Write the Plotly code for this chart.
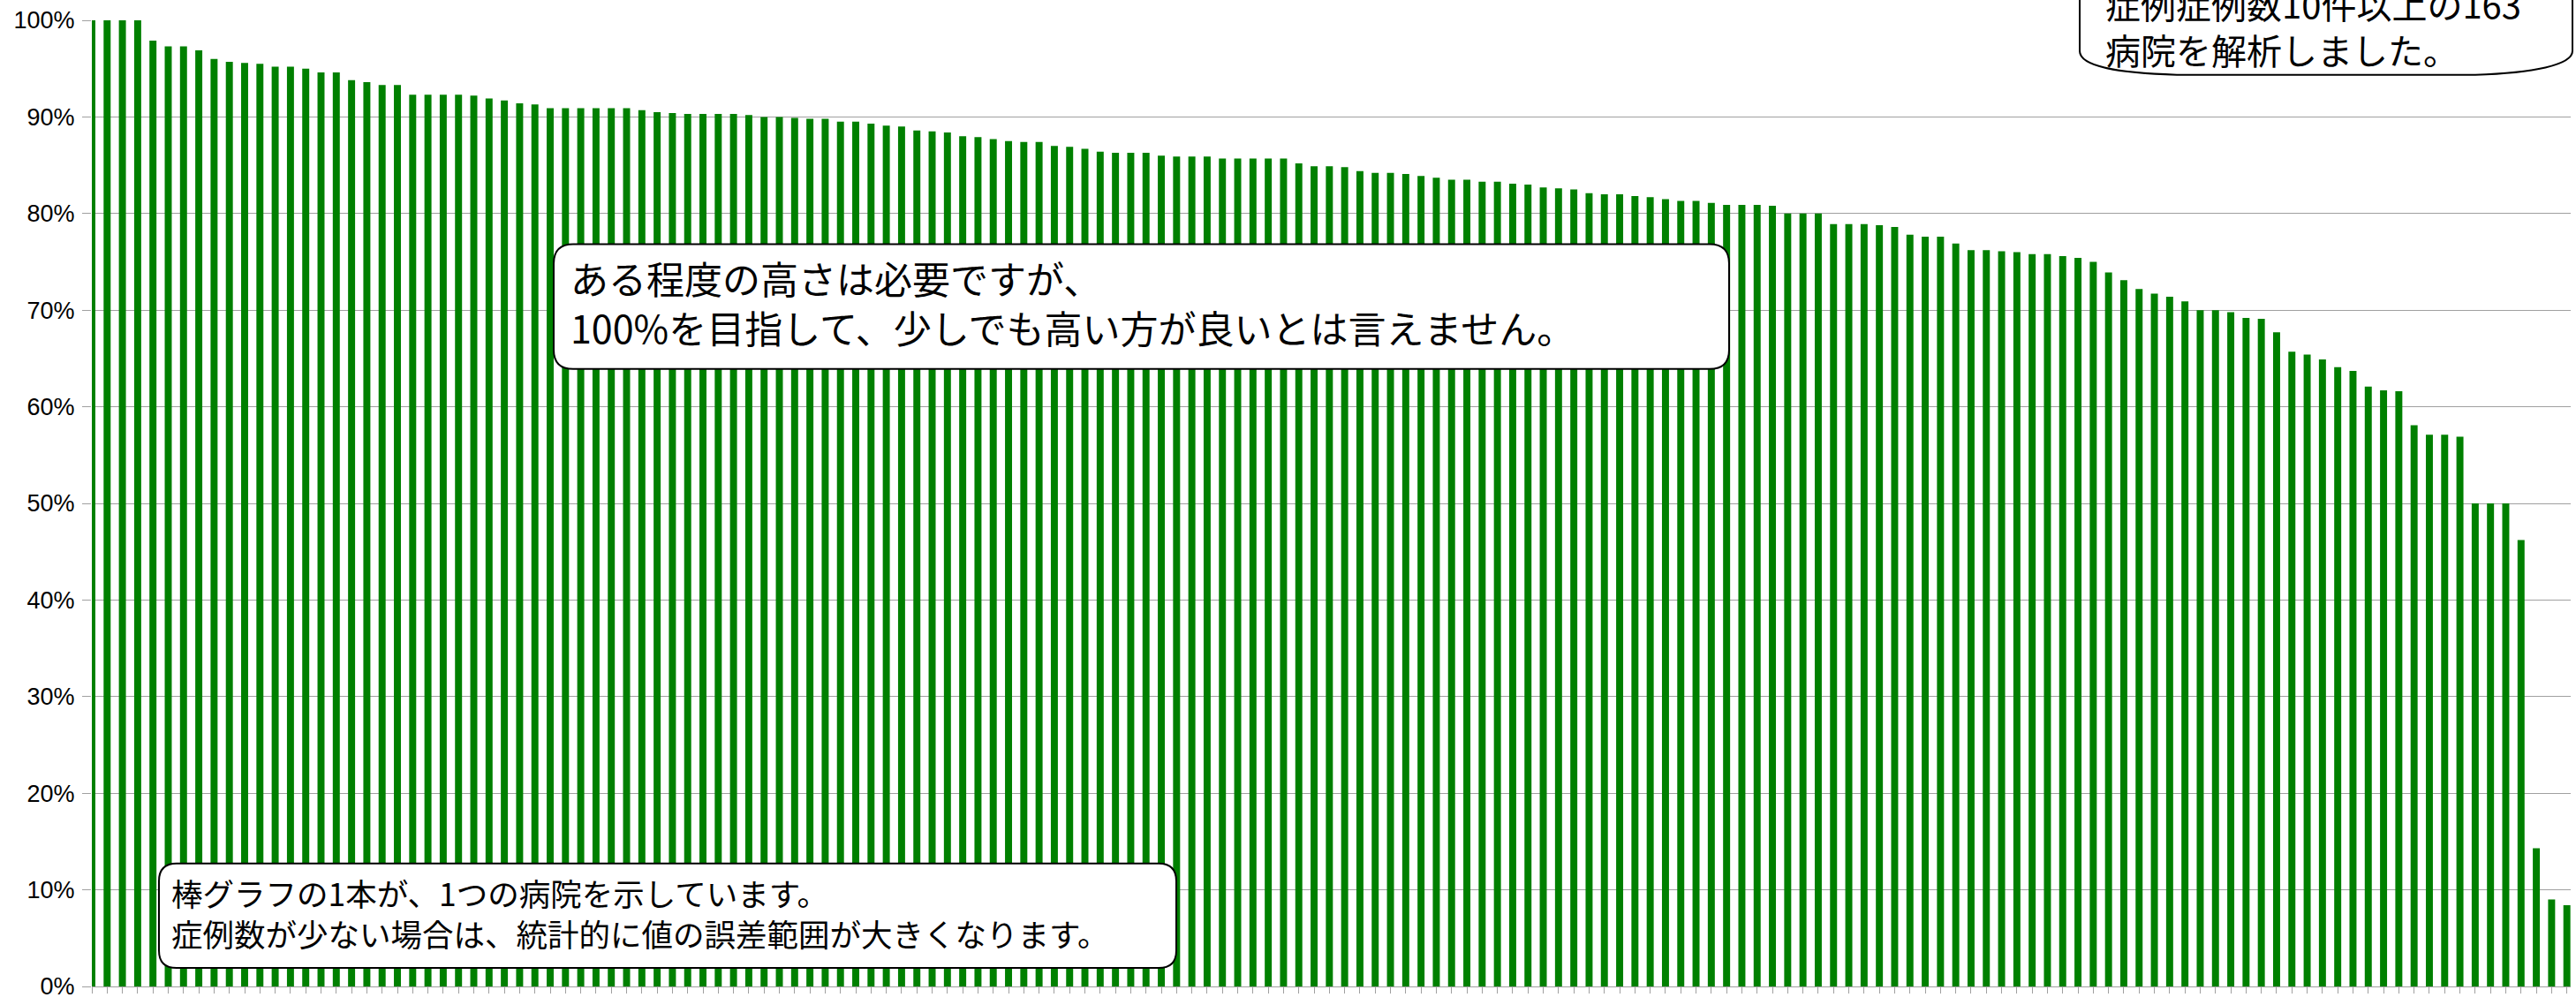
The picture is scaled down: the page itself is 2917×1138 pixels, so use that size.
import plotly.graph_objects as go

# ---- data ----
hospital_no = list(range(1, 164))
rate_pct = [
    100, 100, 100, 100, 97.9, 97.3, 97.3, 96.9, 96.0, 95.7,
    95.6, 95.5, 95.2, 95.2, 95.0, 94.6, 94.6, 93.8, 93.6, 93.3,
    93.3, 92.3, 92.3, 92.3, 92.3, 92.2, 91.9, 91.7, 91.4, 91.3,
    90.9, 90.9, 90.9, 90.9, 90.9, 90.9, 90.7, 90.5, 90.4, 90.3,
    90.3, 90.3, 90.3, 90.2, 90.0, 90.0, 89.9, 89.8, 89.8, 89.5,
    89.5, 89.3, 89.1, 89.0, 88.6, 88.5, 88.4, 88.0, 87.9, 87.7,
    87.5, 87.4, 87.4, 87.0, 86.9, 86.7, 86.4, 86.3, 86.3, 86.3,
    86.0, 85.9, 85.9, 85.9, 85.7, 85.7, 85.7, 85.7, 85.7, 85.2,
    84.9, 84.9, 84.8, 84.4, 84.2, 84.2, 84.1, 83.9, 83.7, 83.5,
    83.5, 83.3, 83.3, 83.1, 83.0, 82.7, 82.6, 82.5, 82.1, 82.0,
    82.0, 81.8, 81.7, 81.5, 81.3, 81.3, 81.1, 80.9, 80.9, 80.9,
    80.8, 80.0, 80.0, 80.0, 78.9, 78.9, 78.9, 78.8, 78.6, 77.8,
    77.6, 77.6, 76.9, 76.2, 76.2, 76.1, 76.0, 75.8, 75.8, 75.6,
    75.4, 75.0, 73.9, 73.1, 72.2, 71.7, 71.4, 70.9, 70.0, 70.0,
    69.8, 69.2, 69.1, 67.7, 65.7, 65.4, 64.9, 64.1, 63.7, 62.1,
    61.7, 61.6, 58.1, 57.1, 57.1, 56.9, 50.0, 50.0, 50.0, 46.2,
    14.3, 9.0, 8.4,
]
y_ticks = [0, 10, 20, 30, 40, 50, 60, 70, 80, 90, 100]

note_top = ["症例症例数10件以上の163", "病院を解析しました。"]
note_mid = ["ある程度の高さは必要ですが、", "100%を目指して、少しでも高い方が良いとは言えません。"]
note_bot = ["棒グラフの1本が、1つの病院を示しています。",
            "症例数が少ない場合は、統計的に値の誤差範囲が大きくなります。"]

# ---- layout geometry (pixels) ----
W, H = 2917, 1138
ML, MR, MT, MB = 104, 6, 23, 15
PW = W - ML - MR
PH = H - MT - MB


def px(x):
    return (x - ML) / PW


def py(y):
    return (H - MB - y) / PH


def rrect(x0, y0, x1, y1, r):
    pts = [
        ("M", (x0 + r, y0)), ("L", (x1 - r, y0)), ("Q", (x1, y0), (x1, y0 + r)),
        ("L", (x1, y1 - r)), ("Q", (x1, y1), (x1 - r, y1)), ("L", (x0 + r, y1)),
        ("Q", (x0, y1), (x0, y1 - r)), ("L", (x0, y0 + r)), ("Q", (x0, y0), (x0 + r, y0)),
    ]
    s = ""
    for p in pts:
        s += p[0] + " " + " ".join(f"{px(a):.6f},{py(b):.6f}" for a, b in p[1:]) + " "
    return s + "Z"


def wave_box(x0, y0, x1, yside, ybot):
    pts = [
        ("M", (x0, y0)), ("L", (x0, yside)),
        ("C", (x0, yside + 18), (x0 + 45, ybot - 2), (x0 + 110, ybot)),
        ("L", (x1 - 110, ybot)),
        ("C", (x1 - 45, ybot - 2), (x1, yside + 16), (x1, yside)),
        ("L", (x1, y0)),
    ]
    s = ""
    for p in pts:
        s += p[0] + " " + " ".join(f"{px(a):.6f},{py(b):.6f}" for a, b in p[1:]) + " "
    return s + "Z"


fig = go.Figure()
fig.add_trace(go.Bar(
    x=hospital_no, y=rate_pct, width=0.46,
    marker=dict(color="#008000", line=dict(width=0)),
    hoverinfo="skip",
))

box_style = dict(type="path", xref="paper", yref="paper",
                 line=dict(color="black", width=2), fillcolor="white", layer="above")
fig.add_shape(path=rrect(627, 278, 1958, 420, 22), **box_style)
fig.add_shape(path=rrect(180, 983, 1332, 1102, 20), **box_style)
fig.add_shape(path=wave_box(2355, -60, 2913, 58, 85), **box_style)

jp = "Noto Sans CJK JP, Noto Sans, sans-serif"


def add_note(lines, x, top, size):
    fig.add_annotation(text="<br>".join(lines), xref="paper", yref="paper",
                       x=px(x), y=py(top),
                       xanchor="left", yanchor="top", showarrow=False, borderpad=0,
                       font=dict(family=jp, size=size, color="black"), align="left")


add_note(note_mid, 645, 283, 43)
add_note(note_bot, 193, 989, 35.5)
add_note(note_top, 2383, -26, 40)

fig.update_layout(
    width=W, height=H,
    margin=dict(l=ML, r=MR, t=MT, b=MB, pad=0),
    paper_bgcolor="white", plot_bgcolor="white",
    showlegend=False,
    xaxis=dict(range=[1, 163.25], tickmode="linear", tick0=1, dtick=1,
               showticklabels=False, showgrid=False, zeroline=False,
               ticks="outside", ticklen=7, tickcolor="#A0A0A0", tickwidth=1,
               showline=True, linecolor="#A0A0A0", linewidth=1),
    yaxis=dict(range=[0, 100], tickmode="array", tickvals=y_ticks,
               ticktext=[f"{v}%" for v in y_ticks],
               showgrid=True, gridcolor="#A0A0A0", gridwidth=1, zeroline=False,
               ticks="outside", ticklen=10, tickcolor="#A0A0A0", tickwidth=1,
               ticklabelstandoff=3, ticklabeloverflow="allow",
               tickfont=dict(family="Liberation Sans Narrow, Liberation Sans, Arial, sans-serif",
                             size=27, color="black")),
)

fig.write_html("out.html", config={"displayModeBar": False},
               post_script="document.body.style.margin='0';")
